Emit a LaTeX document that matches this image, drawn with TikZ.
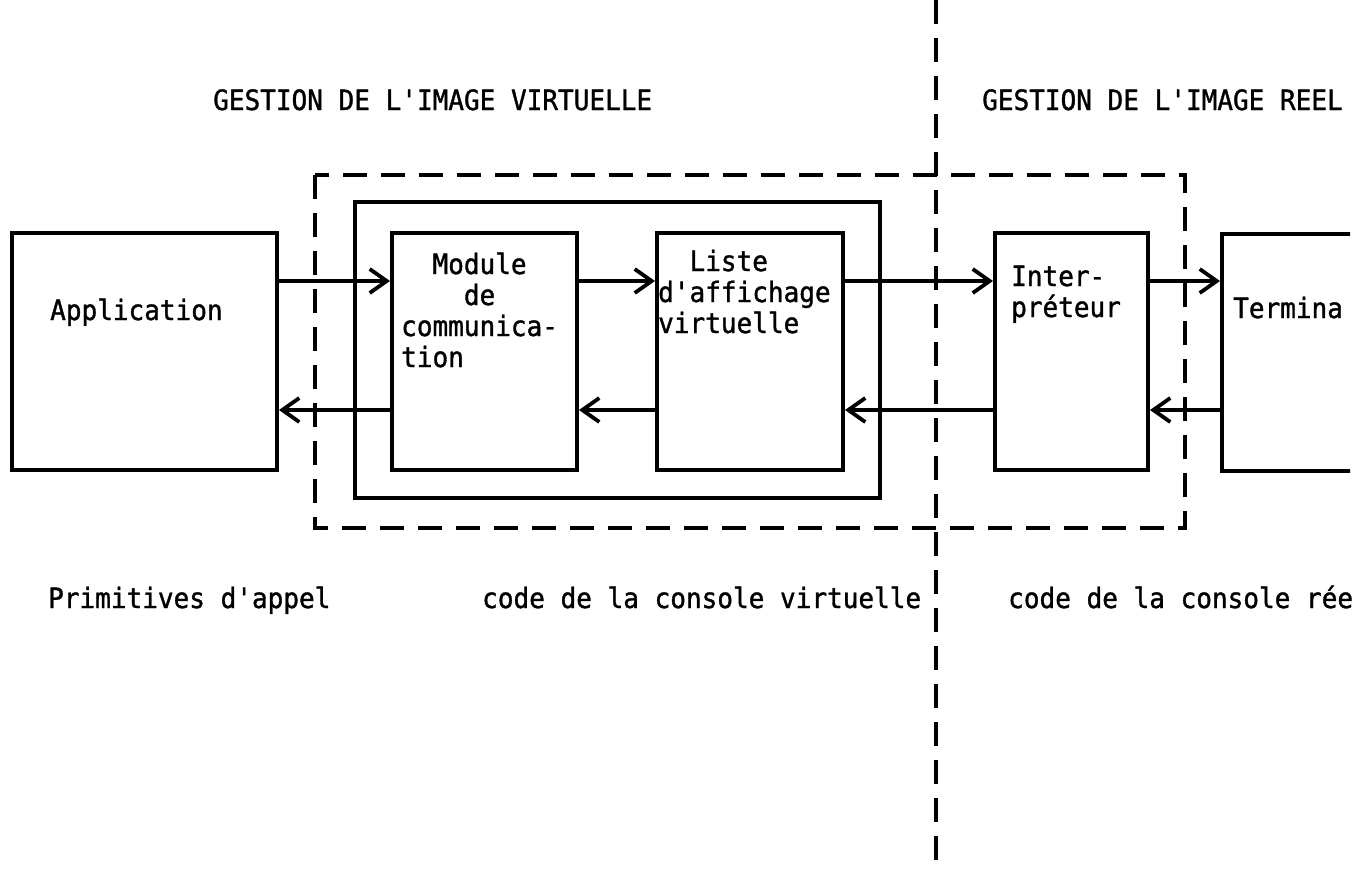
\documentclass[tikz,border=0pt]{standalone}
\usepackage{fontspec}
\setmonofont[FakeStretch=0.93,FakeBold=1.2]{DejaVu Sans Mono}
\usetikzlibrary{arrows.meta}

\begin{document}
\begin{tikzpicture}[x=1pt,y=-1pt,
  box/.style={draw,line width=4pt,minimum height=237pt,inner sep=0pt},
  txt/.style={font=\ttfamily\fontsize{28}{31}\selectfont,inner sep=0pt,
    anchor=base west,align=left},
  flow/.style={-{Straight Barb[length=17pt,width=24pt]},line width=3.8pt},
  zone/.style={dash pattern=on 24pt off 14pt,line width=3.4pt}]
  \useasboundingbox (0,0) rectangle (1367,868);
  % headings
  \node[txt] (hv) at (213,110) {GESTION DE L'IMAGE VIRTUELLE};
  \node[txt] (hr) at (982,110) {GESTION DE L'IMAGE REEL};
  % frames
  \draw[zone] (315,175) rectangle (1185,528);
  \draw[line width=4pt] (355,202) rectangle (880,498);
  \draw[zone] (936,0) -- (936,862);
  % boxes
  \node[box,minimum width=265pt] (app)    at (144.5,351)  {};
  \node[box,minimum width=185pt] (mod)    at (484.5,351)  {};
  \node[box,minimum width=186pt] (liste)  at (750,351)    {};
  \node[box,minimum width=153pt] (interp) at (1071.5,351) {};
  \begin{scope}
    \clip (1200,0) rectangle (1350,868);
    \node[box,minimum width=200pt] (term) at (1322,352) {};
  \end{scope}
  \node[txt] (tapp)    at (50,320)   {Application};
  \node[txt] (tmod)    at (401,367)  {\hphantom{Mo}Module\\\hphantom{Modu}de\\communica-\\tion};
  \node[txt] (tliste)  at (658,333)  {\hphantom{d'}Liste\\d'affichage\\virtuelle};
  \node[txt] (tinterp) at (1011,317) {Inter-\\préteur};
  \node[txt] (tterm)   at (1233,318) {Termina};
  % flows
  \coordinate (up) at (0,281);
  \coordinate (dn) at (0,410);
  \draw[flow] (app.east |- up) -- (mod.west |- up);
  \draw[flow] (mod.east |- up) -- (liste.west |- up);
  \draw[flow] (liste.east |- up) -- (interp.west |- up);
  \draw[flow] (interp.east |- up) -- (term.west |- up);
  \draw[flow] (mod.west |- dn) -- (app.east |- dn);
  \draw[flow] (liste.west |- dn) -- (mod.east |- dn);
  \draw[flow] (interp.west |- dn) -- (liste.east |- dn);
  \draw[flow] (term.west |- dn) -- (interp.east |- dn);
  % bottom labels
  \node[txt] (pa) at (48,608)   {Primitives d'appel};
  \node[txt] (cv) at (482,608)  {code de la console virtuelle};
  \node[txt] (cr) at (1008,608) {code de la console rée};
\end{tikzpicture}
\end{document}
